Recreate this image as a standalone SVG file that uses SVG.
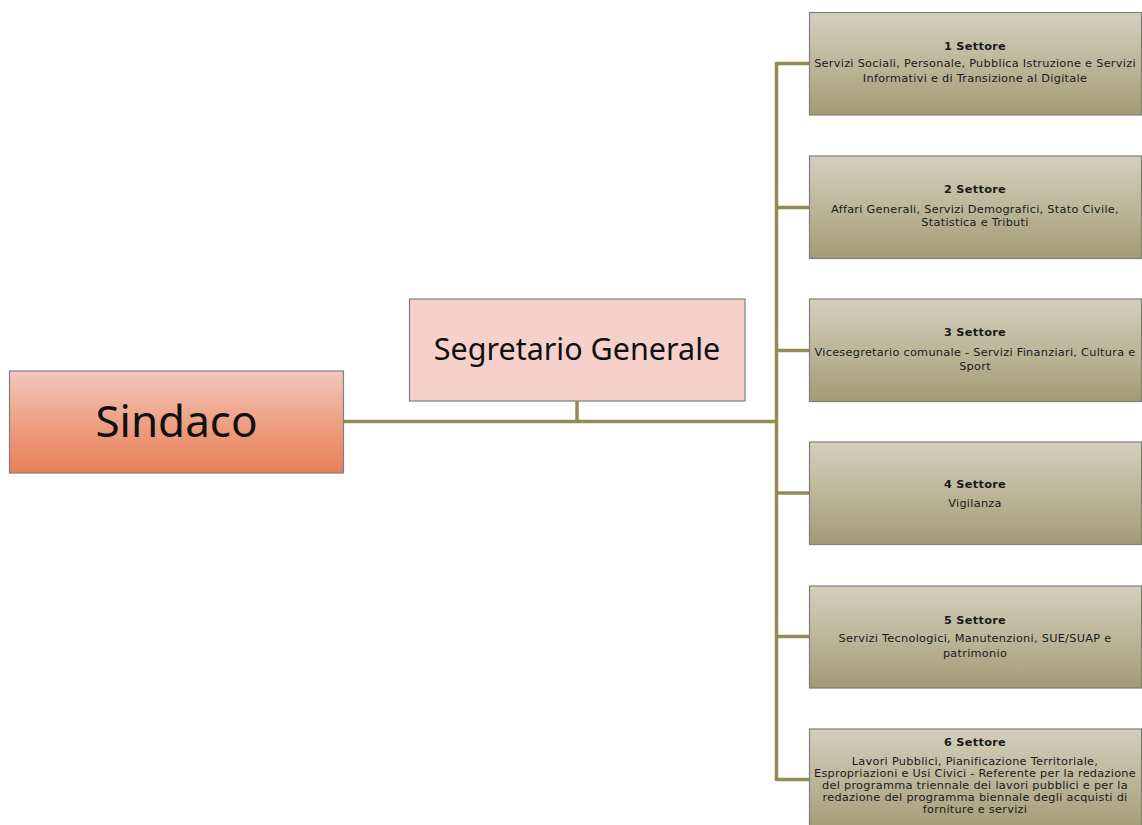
<svg xmlns="http://www.w3.org/2000/svg" width="1142" height="825" viewBox="0 0 1142 825">
<defs>
<linearGradient id="gSind" x1="0" y1="0" x2="0" y2="1">
<stop offset="0" stop-color="#F3C7BC"/>
<stop offset="0.5" stop-color="#EDA184"/>
<stop offset="1" stop-color="#E97F58"/>
</linearGradient>
<linearGradient id="gSet" x1="0" y1="0" x2="0" y2="1">
<stop offset="0" stop-color="#D4CFBE"/>
<stop offset="0.5" stop-color="#BDB699"/>
<stop offset="1" stop-color="#A39A76"/>
</linearGradient>
<style>
.conn{stroke:#948A54;stroke-width:3.5;fill:none;stroke-linecap:butt}
.box{stroke:#7F7F7F;stroke-width:1.2}
.set{fill:url(#gSet)}
.t{font-family:"Noto Sans","Open Sans","DejaVu Sans",sans-serif;fill:#111;text-anchor:middle}
.s{font-family:"DejaVu Sans","Noto Sans",sans-serif;fill:#1a1a1a;text-anchor:middle;font-size:11.3px;letter-spacing:0.28px}
.st{font-weight:bold;letter-spacing:0.3px}
</style>
</defs>
<g id="connectors">
<line class="conn" x1="344" y1="421.5" x2="776.5" y2="421.5"/>
<line class="conn" x1="577" y1="401" x2="577" y2="421.5"/>
<line class="conn" x1="776.5" y1="62" x2="776.5" y2="781"/>
<line class="conn" x1="776.5" y1="63.5" x2="809" y2="63.5"/>
<line class="conn" x1="776.5" y1="207.5" x2="809" y2="207.5"/>
<line class="conn" x1="776.5" y1="350.5" x2="809" y2="350.5"/>
<line class="conn" x1="776.5" y1="493" x2="809" y2="493"/>
<line class="conn" x1="776.5" y1="636.5" x2="809" y2="636.5"/>
<line class="conn" x1="776.5" y1="779.5" x2="809" y2="779.5"/>
</g>
<g id="sindaco">
<rect class="box" x="9.5" y="371" width="334" height="102" fill="url(#gSind)"/>
<text class="t" x="176.5" y="437" font-size="44">Sindaco</text>
</g>
<g id="segretario">
<rect class="box" x="409.5" y="299" width="335.5" height="102" fill="#F6D1CB"/>
<text class="t" x="577" y="360" font-size="30.5">Segretario Generale</text>
</g>
<g id="settore1">
<rect class="box set" x="809.5" y="12.5" width="332" height="102.5"/>
<text class="s st" x="975" y="50">1 Settore</text>
<text class="s" x="975" y="67">Servizi Sociali, Personale, Pubblica Istruzione e Servizi</text>
<text class="s" x="975" y="82">Informativi e di Transizione al Digitale</text>
</g>
<g id="settore2">
<rect class="box set" x="809.5" y="156" width="332" height="102.5"/>
<text class="s st" x="975" y="193">2 Settore</text>
<text class="s" x="975" y="213">Affari Generali, Servizi Demografici, Stato Civile,</text>
<text class="s" x="975" y="226">Statistica e Tributi</text>
</g>
<g id="settore3">
<rect class="box set" x="809.5" y="299" width="332" height="102.5"/>
<text class="s st" x="975" y="336">3 Settore</text>
<text class="s" x="975" y="356">Vicesegretario comunale - Servizi Finanziari, Cultura e</text>
<text class="s" x="975" y="370">Sport</text>
</g>
<g id="settore4">
<rect class="box set" x="809.5" y="442" width="332" height="102.5"/>
<text class="s st" x="975" y="488">4 Settore</text>
<text class="s" x="975" y="507">Vigilanza</text>
</g>
<g id="settore5">
<rect class="box set" x="809.5" y="586" width="332" height="102"/>
<text class="s st" x="975" y="624">5 Settore</text>
<text class="s" x="975" y="642">Servizi Tecnologici, Manutenzioni, SUE/SUAP e</text>
<text class="s" x="975" y="657">patrimonio</text>
</g>
<g id="settore6">
<rect class="box set" x="809.5" y="729" width="332" height="102"/>
<text class="s st" x="975" y="746">6 Settore</text>
<text class="s" x="975" y="765">Lavori Pubblici, Pianificazione Territoriale,</text>
<text class="s" x="975" y="777">Espropriazioni e Usi Civici - Referente per la redazione</text>
<text class="s" x="975" y="789">del programma triennale dei lavori pubblici e per la</text>
<text class="s" x="975" y="801">redazione del programma biennale degli acquisti di</text>
<text class="s" x="975" y="813">forniture e servizi</text>
</g>
</svg>
